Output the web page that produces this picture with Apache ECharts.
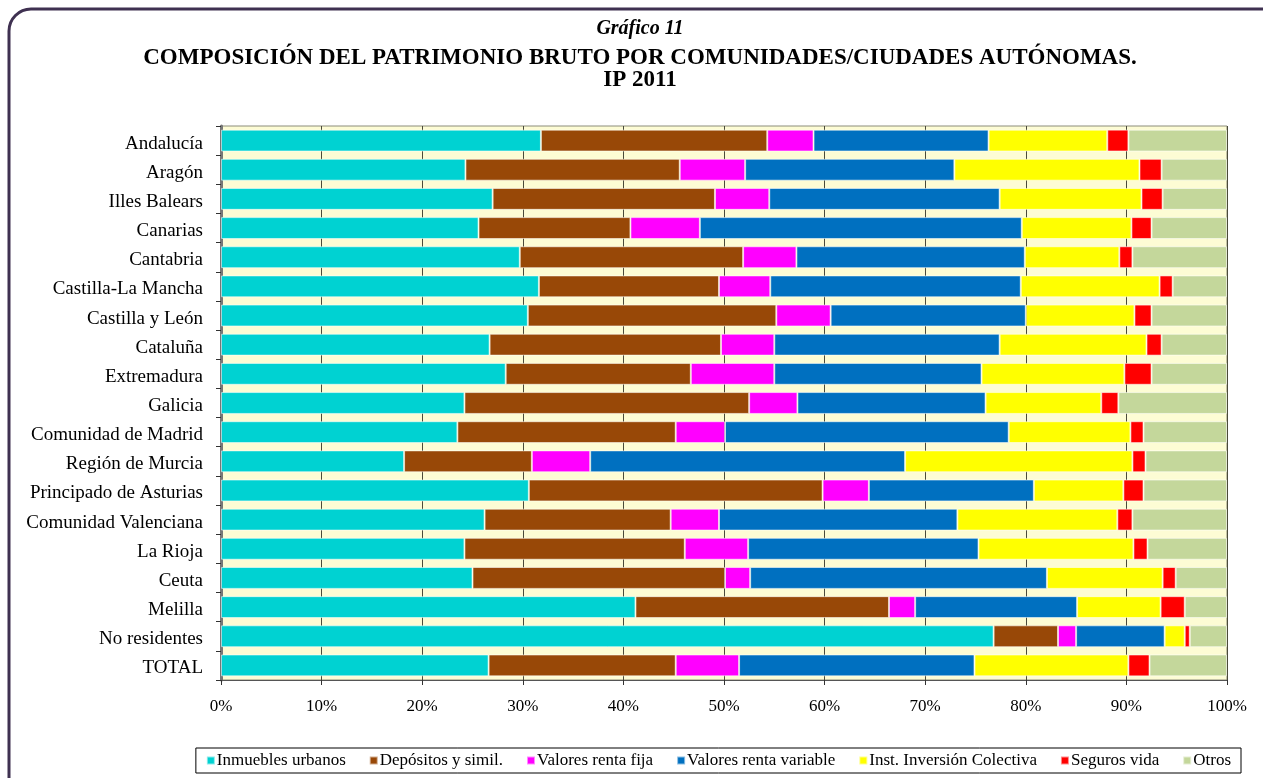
<!DOCTYPE html>
<html>
<head>
<meta charset="utf-8">
<script src="https://cdn.jsdelivr.net/npm/echarts@6/dist/echarts.min.js"></script>
<style>
  html, body { margin: 0; padding: 0; background: #fff; }
  #chart { width: 1263px; height: 778px; }
</style>
</head>
<body>
<div id="chart"></div>
<script>
// comunidades, de arriba a abajo
var regiones = ['Andalucía', 'Aragón', 'Illes Balears', 'Canarias', 'Cantabria',
  'Castilla-La Mancha', 'Castilla y León', 'Cataluña', 'Extremadura', 'Galicia',
  'Comunidad de Madrid', 'Región de Murcia', 'Principado de Asturias',
  'Comunidad Valenciana', 'La Rioja', 'Ceuta', 'Melilla', 'No residentes', 'TOTAL'];

// porcentajes
var inmuebles  = [31.8, 24.3, 27.0, 25.6, 29.7, 31.6, 30.5, 26.7, 28.3, 24.2, 23.5, 18.2, 30.6, 26.2, 24.2, 25.0, 41.2, 76.8, 26.6];
var depositos  = [22.5, 21.3, 22.1, 15.1, 22.2, 17.9, 24.7, 23.0, 18.4, 28.3, 21.7, 12.7, 29.2, 18.5, 21.9, 25.1, 25.2, 6.4, 18.6];
var rentaFija  = [4.6, 6.5, 5.4, 6.9, 5.3, 5.1, 5.4, 5.3, 8.3, 4.8, 4.9, 5.8, 4.6, 4.8, 6.3, 2.5, 2.6, 1.8, 6.3];
var rentaVar   = [17.4, 20.8, 22.9, 32.0, 22.7, 24.9, 19.4, 22.4, 20.6, 18.7, 28.2, 31.3, 16.4, 23.7, 22.9, 29.5, 16.1, 8.8, 23.4];
var iic        = [11.8, 18.4, 14.1, 10.9, 9.4, 13.8, 10.8, 14.6, 14.2, 11.5, 12.1, 22.6, 8.9, 15.9, 15.4, 11.5, 8.3, 2.0, 15.3];
var seguros    = [2.1, 2.2, 2.1, 2.0, 1.3, 1.3, 1.7, 1.5, 2.7, 1.7, 1.3, 1.3, 2.0, 1.5, 1.4, 1.3, 2.4, 0.5, 2.1];
var otros      = [9.8, 6.5, 6.4, 7.5, 9.4, 5.4, 7.5, 6.5, 7.5, 10.8, 8.3, 8.1, 8.3, 9.4, 7.9, 5.1, 4.2, 3.7, 7.7];

var nombres = ['Inmuebles urbanos', 'Depósitos y simil.', 'Valores renta fija',
  'Valores renta variable', 'Inst. Inversión Colectiva', 'Seguros vida', 'Otros'];
var colores = ['#00d2d2', '#984807', '#ff00ff', '#0070c0', '#ffff00', '#ff0000', '#c4d79b'];
var datos = [inmuebles, depositos, rentaFija, rentaVar, iic, seguros, otros];

var fuente = '"Liberation Serif", "Times New Roman", serif';

var chart = echarts.init(document.getElementById('chart'));

var series = nombres.map(function (n, i) {
  return {
    name: n,
    type: 'bar',
    stack: 'total',
    barCategoryGap: '25%',
    itemStyle: { color: colores[i], borderColor: 'rgba(255,255,255,0.55)', borderWidth: 1 },
    data: datos[i]
  };
});

chart.setOption({
  backgroundColor: '#fff',
  textStyle: { fontFamily: fuente },
  animation: false,
  graphic: [
    {
      type: 'rect', z: -10,
      shape: { x: 9, y: 9, width: 1280, height: 790, r: 22 },
      style: { fill: '#fff', stroke: '#3f3151', lineWidth: 3 }
    },
    {
      type: 'text', x: 640, y: 29,
      style: { text: 'Gráfico 11', font: 'italic bold 20px ' + fuente, fill: '#000', align: 'center', verticalAlign: 'middle' }
    },
    {
      type: 'text', x: 640, y: 58,
      style: { text: 'COMPOSICIÓN DEL PATRIMONIO BRUTO POR COMUNIDADES/CIUDADES AUTÓNOMAS.', font: 'bold 23px ' + fuente, fill: '#000', align: 'center', verticalAlign: 'middle' }
    },
    {
      type: 'text', x: 640, y: 80,
      style: { text: 'IP 2011', font: 'bold 23px ' + fuente, fill: '#000', align: 'center', verticalAlign: 'middle' }
    }
  ],
  grid: {
    left: 221, right: 36, top: 126, bottom: 98,
    show: true, backgroundColor: '#fdfcd4', borderColor: '#8c8c7a', borderWidth: 1
  },
  legend: {
    top: 748, right: 22,
    itemWidth: 8, itemHeight: 8, itemGap: 23,
    icon: 'rect',
    borderColor: '#000', borderWidth: 1, padding: [4, 10],
    textStyle: { fontFamily: fuente, fontSize: 17, color: '#000', padding: [0, 0, 0, -3] },
    data: nombres
  },
  xAxis: {
    type: 'value', min: 0, max: 100, interval: 10,
    axisLine: { show: true, lineStyle: { color: '#555', width: 1 } },
    axisTick: { show: true, length: 5, lineStyle: { color: '#333' } },
    splitLine: { show: true, lineStyle: { color: '#4a4a3a', width: 1 } },
    axisLabel: {
      formatter: '{value}%', fontFamily: fuente, fontSize: 17, color: '#000', margin: 18
    }
  },
  yAxis: {
    type: 'category', inverse: true, data: regiones,
    axisLine: { show: true, lineStyle: { color: '#777', width: 3 } },
    axisTick: { show: true, length: 5, lineStyle: { color: '#333' } },
    axisLabel: {
      margin: 18,
      formatter: '{n|{value}}',
      rich: { n: { fontFamily: fuente, fontSize: 19, color: '#000', padding: [6, 0, 0, 0] } }
    }
  },
  series: series
});
</script>
</body>
</html>
